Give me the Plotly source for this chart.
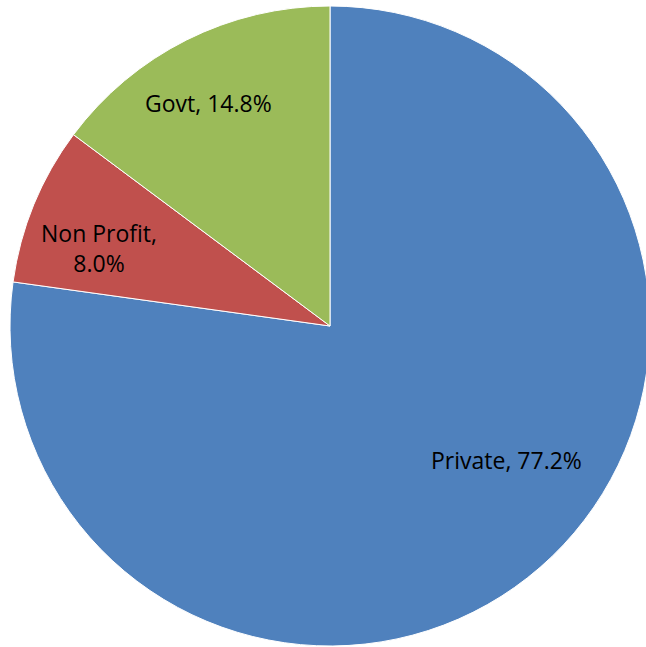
import plotly.graph_objects as go

labels = ["Private", "Non Profit", "Govt"]
values = [77.2, 8.0, 14.8]
colors = ["#4F81BD", "#C0504D", "#9BBB59"]
label_sep = [", ", ",<br>", ", "]

W, H = 652, 647
# pie circle (pixels): center (330, 326), radius 320
cx, cy, R = 330, 326, 320
# label centres in pixels (layout)
label_px = [(506, 460), (99, 248), (208, 103)]

total = sum(values)
fig = go.Figure(go.Pie(
    labels=labels, values=values, sort=False, direction="clockwise", rotation=0,
    marker=dict(colors=colors, line=dict(color="white", width=1)),
    textinfo="none", showlegend=False, hoverinfo="label+percent",
    domain=dict(x=[(cx - R) / W, (cx + R) / W], y=[1 - (cy + R) / H, 1 - (cy - R) / H]),
))
for lab, v, sep, (px, py) in zip(labels, values, label_sep, label_px):
    fig.add_annotation(
        x=px / W, y=1 - py / H, xref="paper", yref="paper",
        text=f"{lab}{sep}{v / total * 100:.1f}%", showarrow=False,
        font=dict(family="Open Sans", size=23, color="black"),
        xanchor="center", yanchor="middle", align="center",
    )
fig.update_layout(width=W, height=H, margin=dict(l=0, r=0, t=0, b=0),
                  paper_bgcolor="white", plot_bgcolor="white")
fig.write_html("out.html", config={"displayModeBar": False},
               post_script="document.body.style.margin='0';document.body.style.overflow='hidden';")
